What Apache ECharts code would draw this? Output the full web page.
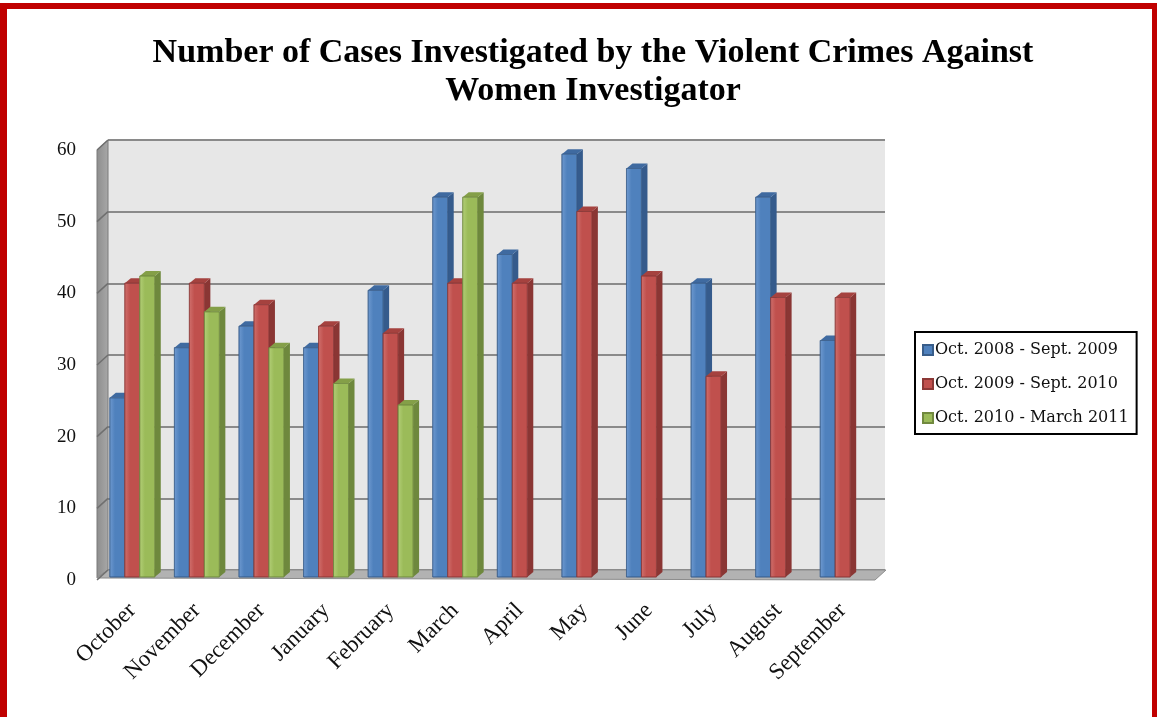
<!DOCTYPE html>
<html>
<head>
<meta charset="utf-8">
<script src="https://cdn.jsdelivr.net/npm/echarts@6/dist/echarts.min.js"></script>
<style>
  html, body { margin: 0; padding: 0; background: #fff; }
  #main { position: absolute; left: 0; top: 0; width: 1157px; height: 717px; }
  #frame { position: absolute; left: 0; top: 3px; width: 1145px; height: 714px;
           border-left: 7px solid #c00000; border-top: 6px solid #c00000; border-right: 5px solid #c00000;
           pointer-events: none; }
</style>
</head>
<body>
<div id="main"></div>
<div id="frame"></div>
<script>
var months = ['October', 'November', 'December', 'January', 'February', 'March',
              'April', 'May', 'June', 'July', 'August', 'September'];
var names = ['Oct. 2008 - Sept. 2009', 'Oct. 2009 - Sept. 2010', 'Oct. 2010 - March 2011'];
var cases0809 = [25, 32, 35, 32, 40, 53, 45, 59, 57, 41, 53, 33];
var cases0910 = [41, 41, 38, 35, 34, 41, 41, 51, 42, 28, 39, 39];
var cases1011 = [42, 37, 32, 27, 24, 53, null, null, null, null, null, null];
var yTicks = [0, 10, 20, 30, 40, 50, 60];

// front face, side, top colours for each series
var colors = [
    { front: '#4f81bd', light: '#6f9ad0', side: '#355b8c', top: '#3f6aa0', edge: '#385d8a' },
    { front: '#c0504d', light: '#d0706d', side: '#8a3634', top: '#a5423f', edge: '#8c3836' },
    { front: '#9bbb59', light: '#b3cf78', side: '#6e883d', top: '#849f48', edge: '#71893f' }
];

// back wall / front plane
var back = { left: 108, right: 885, top: 140, bottom: 570 };
var front = { left: 100, right: 875, top: 147, bottom: 577 };
var wallFrontX = 97;

function renderBar(si) {
    return function (params, api) {
        var v = api.value(1);
        if (v == null || isNaN(v)) return;
        var top = api.coord([api.value(0), v]);
        var base = api.coord([api.value(0), 0]);
        var bw = api.size([1, 0])[0] * 0.232;
        var x0 = top[0] - bw * 1.5 + si * bw;
        var dx = 6, dy = -5;
        var c = colors[si];
        return {
            type: 'group',
            children: [
                {
                    type: 'polygon',
                    shape: { points: [[x0 + bw, top[1]], [x0 + bw + dx, top[1] + dy], [x0 + bw + dx, base[1] + dy], [x0 + bw, base[1]]] },
                    style: { fill: c.side }
                },
                {
                    type: 'polygon',
                    shape: { points: [[x0, top[1]], [x0 + dx, top[1] + dy], [x0 + bw + dx, top[1] + dy], [x0 + bw, top[1]]] },
                    style: { fill: c.top }
                },
                {
                    type: 'rect',
                    shape: { x: x0, y: top[1], width: bw, height: base[1] - top[1] },
                    style: {
                        fill: new echarts.graphic.LinearGradient(0, 0, 1, 0, [
                            { offset: 0, color: c.light },
                            { offset: 0.35, color: c.front },
                            { offset: 1, color: c.front }
                        ]),
                        stroke: c.edge,
                        lineWidth: 0.6
                    }
                }
            ]
        };
    };
}

function toData(arr) {
    return arr.map(function (v, i) { return [i, v == null ? '-' : v]; });
}

var seriesData = [cases0809, cases0910, cases1011];
var series = seriesData.map(function (arr, si) {
    return {
        name: names[si],
        type: 'custom',
        xAxisIndex: 1,
        yAxisIndex: 1,
        renderItem: renderBar(si),
        itemStyle: { color: colors[si].front, borderColor: colors[si].edge, borderWidth: 1 },
        encode: { x: 0, y: 1 },
        data: toData(arr),
        z: 3
    };
});

var option = {
    animation: false,
    title: {
        text: 'Number of Cases Investigated by the Violent Crimes Against\nWomen Investigator',
        left: 588,
        top: 29,
        textAlign: 'center',
        textStyle: {
            fontFamily: 'Liberation Serif',
            fontWeight: 'bold',
            fontSize: 34,
            lineHeight: 38,
            color: '#000'
        }
    },
    legend: {
        orient: 'vertical',
        left: 915,
        top: 332,
        padding: [10, 8, 8, 7],
        itemWidth: 10,
        itemHeight: 10,
        itemGap: 18,
        icon: 'rect',
        borderColor: '#000',
        borderWidth: 2,
        backgroundColor: '#fff',
        data: names,
        textStyle: { fontFamily: 'DejaVu Serif', fontSize: 16, color: '#111', padding: [0, 0, 0, -3] }
    },
    grid: [
        { left: back.left, right: 1157 - back.right, top: back.top, bottom: 717 - back.bottom,
          show: true, backgroundColor: '#e7e7e7', borderWidth: 0 },
        { left: front.left, right: 1157 - front.right, top: front.top, bottom: 717 - front.bottom }
    ],
    xAxis: [
        { gridIndex: 0, type: 'category', data: months, show: false },
        {
            gridIndex: 1, type: 'category', data: months,
            axisLine: { show: false }, axisTick: { show: false },
            axisLabel: {
                interval: 0, rotate: 45, margin: 30,
                fontFamily: 'Liberation Serif', fontSize: 23, color: '#111'
            }
        }
    ],
    yAxis: [
        {
            gridIndex: 0, type: 'value', min: 0, max: 60, interval: 10,
            axisLabel: { show: false }, axisLine: { show: false }, axisTick: { show: false },
            splitLine: { lineStyle: { color: '#8a8a8a', width: 2 } }
        },
        {
            gridIndex: 1, type: 'value', min: 0, max: 60, interval: 10,
            axisLine: { show: false }, axisTick: { show: false }, splitLine: { show: false },
            axisLabel: { margin: 24, fontFamily: 'Liberation Serif', fontSize: 19, color: '#111',
                         verticalAlign: 'top', lineHeight: 6 }
        }
    ],
    series: series
};

var chart = echarts.init(document.getElementById('main'));
chart.setOption(option);

// walls and floor, drawn behind the bars
var graphics = [
    {
        type: 'polygon', z: 1,
        shape: { points: [[wallFrontX, front.top + 3], [back.left, back.top], [back.left, back.bottom], [wallFrontX, front.bottom + 1]] },
        style: { fill: new echarts.graphic.LinearGradient(0, 0, 1, 0, [
            { offset: 0, color: '#8d8d8d' }, { offset: 1, color: '#a8a8a8' }]), stroke: '#7a7a7a', lineWidth: 1 }
    },
    {
        type: 'polygon', z: 1,
        shape: { points: [[wallFrontX, front.bottom + 1], [back.left, back.bottom], [back.right + 1, back.bottom], [front.right, front.bottom + 3]] },
        style: { fill: '#b2b2b2', stroke: '#8c8c8c', lineWidth: 1 }
    }
];
yTicks.forEach(function (v) {
    var yb = chart.convertToPixel({ yAxisIndex: 0 }, v);
    var yf = chart.convertToPixel({ yAxisIndex: 1 }, v);
    graphics.push({
        type: 'line', z: 1,
        shape: { x1: wallFrontX, y1: yf + 3, x2: back.left, y2: yb },
        style: { stroke: '#6f6f6f', lineWidth: 1.5 }
    });
});
chart.setOption({ graphic: graphics });
</script>
</body>
</html>
